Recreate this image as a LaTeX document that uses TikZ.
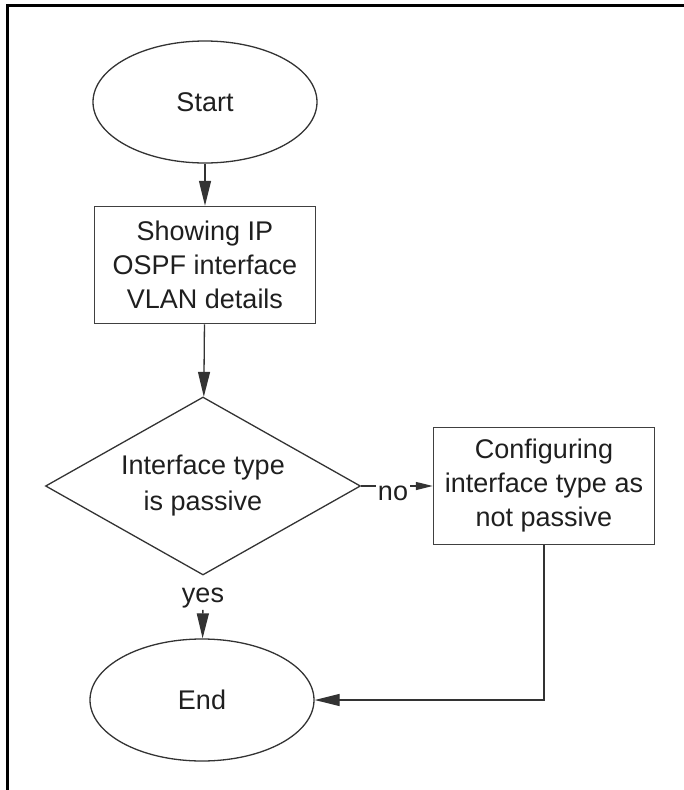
\documentclass[tikz,border=0pt]{standalone}
\usepackage{fontspec}
\setmainfont{Liberation Sans}
\usetikzlibrary{shapes.geometric,arrows.meta}
\begin{document}
\begin{tikzpicture}[x=1pt,y=-1pt,
  every node/.style={font=\fontsize{27}{34}\selectfont, text=black!88},
  term/.style={draw=black!80, line width=1.3pt, ellipse, minimum width=224pt, minimum height=122pt, inner sep=0pt},
  proc/.style={draw=black!75, line width=1.5pt, rectangle, minimum width=221pt, minimum height=117pt, align=center, inner sep=0pt},
  decide/.style={draw=black!80, line width=1.3pt, diamond, shape aspect=1.77, minimum width=315pt, minimum height=178pt, align=center, inner sep=0pt, font=\fontsize{27}{36}\selectfont},
  lbl/.style={inner sep=2pt},
  conn/.style={draw=black!80, line width=1.3pt},
  arrow/.style={conn, -{Triangle[length=25pt,width=12pt]}},
  smallarrow/.style={conn, -{Triangle[length=17pt,width=8pt]}},
  frame/.style={draw=black, line width=3pt}
]
\path[use as bounding box] (0,0) rectangle (684,790);
\draw[frame] (6,5.5) -- (684,5.5);
\draw[frame] (7.5,4) -- (7.5,790);

\node[term] (start) at (205,102) {Start};
\node[proc] (show) at (205,265) {Showing IP\\OSPF interface\\VLAN details};
\node[decide] (dia) at (203,486) {Interface type\\is passive};
\node[proc] (conf) at (544,486) {Configuring\\interface type as\\not passive};
\node[term] (end) at (202,700) {End};
\node[lbl, anchor=base] (no) at (393,500) {no};
\node[lbl, anchor=base] (yes) at (203,602) {yes};

\draw[arrow] (start) -- (show);
\draw[arrow] (show) -- (dia);
\draw[conn] (dia.east) -- (dia.east -| no.west);
\draw[smallarrow] (no.east |- dia.east) -- (conf.west);
\draw[arrow] (yes) -- (end);
\draw[arrow] (conf.south) |- (end.east);
\end{tikzpicture}
\end{document}
